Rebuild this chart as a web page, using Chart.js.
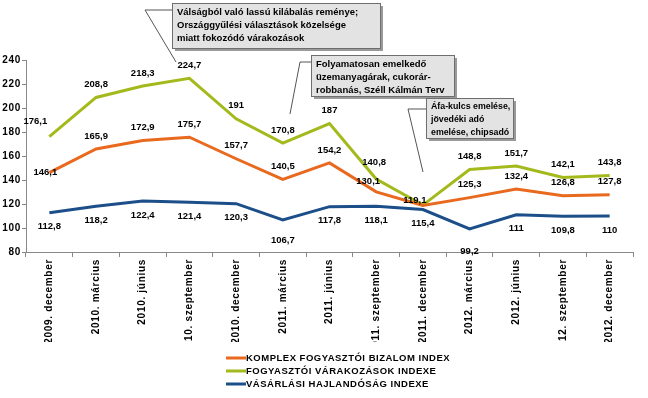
<!DOCTYPE html>
<html>
<head>
<meta charset="utf-8">
<script src="https://cdn.jsdelivr.net/npm/chart.js@4.4.0/dist/chart.umd.min.js"></script>
<style>
  html, body { margin: 0; padding: 0; background: #fff; }
  #wrap { width: 648px; height: 398px; position: relative; }
</style>
</head>
<body>
<div id="wrap"><canvas id="myChart" width="648" height="398"></canvas></div>
<script>
// chart data
var categories = ["2009. december", "2010. március", "2010. június", "2010. szeptember", "2010. december",
    "2011. március", "2011. június", "2011. szeptember", "2011. december", "2012. március",
    "2012. június", "2012. szeptember", "2012. december"];
var komplexIndex = [146.1, 165.9, 172.9, 175.7, 157.7, 140.5, 154.2, 130.1, 118.8, 125.3, 132.4, 126.8, 127.8];
var varakozasIndex = [176.1, 208.8, 218.3, 224.7, 191, 170.8, 187, 140.8, 119.1, 148.8, 151.7, 142.1, 143.8];
var hajlandosagIndex = [112.8, 118.2, 122.4, 121.4, 120.3, 106.7, 117.8, 118.1, 115.4, 99.2, 111, 109.8, 110];
var yTicks = [80, 100, 120, 140, 160, 180, 200, 220, 240];
var seriesNames = ["KOMPLEX FOGYASZTÓI BIZALOM INDEX", "FOGYASZTÓI VÁRAKOZÁSOK INDEXE", "VÁSÁRLÁSI HAJLANDÓSÁG INDEXE"];
var notes = [
    ["Válságból való lassú kilábalás reménye;", "Országgyűlési választások közelsége", "miatt fokozódó várakozások"],
    ["Folyamatosan emelkedő", "üzemanyagárak, cukorár-", "robbanás, Széll Kálmán Terv"],
    ["Áfa-kulcs emelése,", "jövedéki adó", "emelése, chipsadó"]
];

var FONT = "'Liberation Sans', Arial, sans-serif";
var colors = ["#e9691f", "#a4b91c", "#1c4e8a"];

var ctx = document.getElementById('myChart').getContext('2d');

function fmt(v) {
    return String(v).replace('.', ',');
}

// a bit of letter spacing for the axis texts, like the original
var spacing = {
    id: 'spacing',
    beforeUpdate: function (chart) { chart.ctx.letterSpacing = '0.7px'; },
    beforeDraw: function (chart) { chart.ctx.letterSpacing = '0.7px'; },
    beforeDatasetsDraw: function (chart) { chart.ctx.letterSpacing = '0px'; }
};

// value labels next to the line points
var valueLabels = {
    id: 'valueLabels',
    afterDatasetsDraw: function (chart) {
        var c = chart.ctx;
        c.save();
        c.letterSpacing = '0px';
        c.font = "bold 9.5px " + FONT;
        c.fillStyle = "#000";
        c.textAlign = "center";
        c.textBaseline = "middle";
        chart.data.datasets.forEach(function (ds, di) {
            var meta = chart.getDatasetMeta(di);
            meta.data.forEach(function (pt, i) {
                var dx = 0, dy;
                if (di === 2) dy = 14; else dy = -13;
                if (di === 0 && i === 0) { dy = 0; dx = -4; }
                if (di === 1 && i === 0) { dx = -14; dy = -15; }
                if (di === 0 && i === 7) { dy = -11; dx = -8; }
                if (di === 1 && i === 7) { dx = -2; dy = -17; }
                if (di === 1 && i === 8) { dx = -8; dy = -5; }
                if (di === 0 && i === 8) { return; }
                if (di === 2 && i === 9) { dy = 22; }
                if (di === 2 && i === 5) { dy = 20; }
                c.fillText(fmt(ds.data[i]), pt.x + dx, pt.y + dy);
            });
        });
        c.restore();
    }
};

// comment boxes and legend
var extras = {
    id: 'extras',
    afterDraw: function (chart) {
        var c = chart.ctx;
        c.save();
        c.letterSpacing = '0px';
        var boxes = [
            { x: 172, y: 3, w: 208, h: 45, fs: 9.5, lead: [[172, 10], [145, 10], [176, 62]] },
            { x: 311, y: 55, w: 143, h: 41, fs: 9.5, lead: [[311, 62], [300, 62], [290, 114]] },
            { x: 426, y: 98, w: 87, h: 40, fs: 8.8, lead: [[426, 109], [408, 109], [423, 172]] }
        ];
        boxes.forEach(function (b, k) {
            c.strokeStyle = "#555";
            c.lineWidth = 1;
            c.beginPath();
            c.moveTo(b.lead[0][0], b.lead[0][1]);
            for (var i = 1; i < b.lead.length; i++) c.lineTo(b.lead[i][0], b.lead[i][1]);
            c.stroke();
            c.fillStyle = "#9a9a9a";
            c.fillRect(b.x + 3, b.y + 3, b.w, b.h);
            c.fillStyle = "#e3e3e3";
            c.fillRect(b.x, b.y, b.w, b.h);
            c.strokeStyle = "#6e6e6e";
            c.strokeRect(b.x + 0.5, b.y + 0.5, b.w, b.h);
            c.fillStyle = "#000";
            c.font = "bold " + b.fs + "px " + FONT;
            c.textAlign = "left";
            c.textBaseline = "middle";
            notes[k].forEach(function (line, j) {
                c.fillText(line, b.x + 5, b.y + 9 + j * 13);
            });
        });

        // legend
        var lx = 226, ly = 358;
        c.letterSpacing = '0.5px';
        chart.data.datasets.forEach(function (ds, i) {
            var y = ly + i * 13;
            c.strokeStyle = ds.borderColor;
            c.lineWidth = 3;
            c.beginPath();
            c.moveTo(lx, y);
            c.lineTo(lx + 20, y);
            c.stroke();
            c.fillStyle = "#000";
            c.font = "bold 9.5px " + FONT;
            c.textAlign = "left";
            c.textBaseline = "middle";
            c.fillText(seriesNames[i], lx + 20, y);
        });
        c.restore();
    }
};

var chart = new Chart(ctx, {
    type: 'line',
    data: {
        labels: categories,
        datasets: [
            { label: seriesNames[0], data: komplexIndex, borderColor: colors[0], backgroundColor: colors[0] },
            { label: seriesNames[1], data: varakozasIndex, borderColor: colors[1], backgroundColor: colors[1] },
            { label: seriesNames[2], data: hajlandosagIndex, borderColor: colors[2], backgroundColor: colors[2] }
        ]
    },
    options: {
        responsive: false,
        animation: false,
        layout: { padding: { top: 60, left: 0, right: 15, bottom: 56 } },
        elements: {
            line: { borderWidth: 3, tension: 0 },
            point: { radius: 0 }
        },
        plugins: {
            legend: { display: false },
            tooltip: { enabled: false }
        },
        scales: {
            x: {
                offset: true,
                afterFit: function (axis) { axis.height = 90; },
                grid: { offset: true, drawOnChartArea: false, drawTicks: true, tickLength: 5, color: "#888" },
                border: { color: "#888" },
                ticks: {
                    color: "#000",
                    font: { family: FONT, size: 10, weight: 'bold' },
                    maxRotation: 90, minRotation: 90, padding: 2, autoSkip: false
                }
            },
            y: {
                min: 80, max: 240,
                afterFit: function (axis) { axis.width = 26; },
                afterBuildTicks: function (axis) {
                    axis.ticks = yTicks.map(function (v) { return { value: v }; });
                },
                grid: { drawOnChartArea: false, drawTicks: true, tickLength: 4, color: "#888" },
                border: { color: "#888" },
                ticks: {
                    color: "#000",
                    font: { family: FONT, size: 10, weight: 'bold' },
                    padding: 1
                }
            }
        }
    },
    plugins: [spacing, valueLabels, extras]
});
</script>
</body>
</html>
